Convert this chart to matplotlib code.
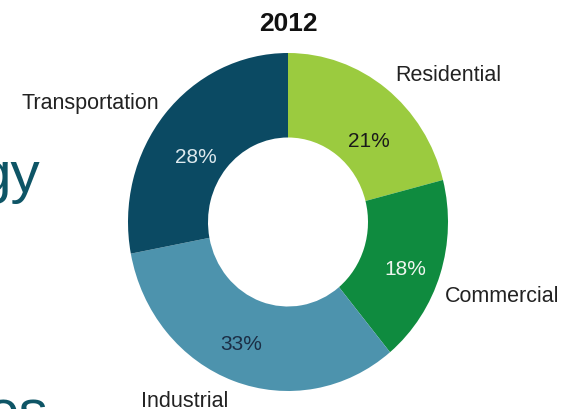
import matplotlib
matplotlib.use("Agg")
import matplotlib.pyplot as plt

# ---- data ----
title = "2012"
categories = ["Residential", "Commercial", "Industrial", "Transportation"]
shares = [21, 18, 33, 28]
pct_labels = ["21%", "18%", "33%", "28%"]

# ---- style ----
colors = ["#9BCB3F", "#0F8B3F", "#4D93AD", "#0B4A63"]
pct_colors = ["#1a1a1a", "#eef6ef", "#1b2e45", "#dde9ee"]
# label positions (data coords of unit pie; baseline anchored)
cat_pos = [(1.0, 0.840), (1.3375, -0.467), (-0.644, -1.089), (-1.2375, 0.672)]
pct_pos = [(0.506, 0.450), (0.731, -0.308), (-0.294, -0.751), (-0.575, 0.355)]

W, H = 561, 410
fig = plt.figure(figsize=(W / 100, H / 100), dpi=100)
fig.patch.set_facecolor("white")

# axes mapped so radius 1 -> 160 px horizontally, 169 px vertically
cx, cy, rx, ry = 288, 223, 160, 169
ax = fig.add_axes([(cx - rx) / W, (H - cy - ry) / H, 2 * rx / W, 2 * ry / H])
ax.pie(shares, colors=colors, startangle=90, counterclock=False, radius=1,
       wedgeprops=dict(width=0.5, edgecolor="none"))
ax.set_aspect("auto")
ax.set_xlim(-1, 1)
ax.set_ylim(-1, 1)
ax.axis("off")

font = "Liberation Sans"
for name, (x, y) in zip(categories, cat_pos):
    ax.text(x, y, name, ha="center", va="baseline", fontsize=15.5,
            color="#222222", family=font, clip_on=False)
for lab, c, (x, y) in zip(pct_labels, pct_colors, pct_pos):
    ax.text(x, y, lab, ha="center", va="baseline", fontsize=15,
            color=c, family=font, clip_on=False)

fig.text(cx / W, 1 - 31 / H, title, ha="center", va="baseline", fontsize=19,
         fontweight="bold", color="#111111", family=font)

# partial slide text at the left edge
fig.text(40 / W, 1 - 192 / H, "gy", ha="right", va="baseline", fontsize=42,
         color="#0E5566", family=font)
fig.text(48 / W, 1 - 431 / H, "es", ha="right", va="baseline", fontsize=42,
         color="#0E5566", family=font)

fig.savefig("out.png", dpi=100, facecolor="white")
